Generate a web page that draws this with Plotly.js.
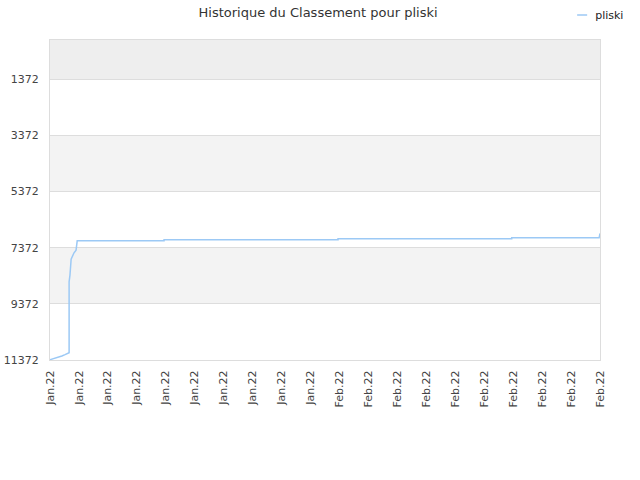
<!DOCTYPE html>
<html>
<head>
<meta charset="utf-8">
<script src="https://cdn.plot.ly/plotly-3.0.1.min.js"></script>
<style>
  body { margin: 0; }
  #chart { width: 640px; height: 480px; }
</style>
</head>
<body>
<div id="chart"></div>
<script>
// tick labels along the x axis (one per tick position)
var tickLabels = ['Jan.22', 'Jan.22', 'Jan.22', 'Jan.22', 'Jan.22', 'Jan.22', 'Jan.22', 'Jan.22', 'Jan.22', 'Jan.22',
                  'Feb.22', 'Feb.22', 'Feb.22', 'Feb.22', 'Feb.22', 'Feb.22', 'Feb.22', 'Feb.22', 'Feb.22', 'Feb.22'];
var tickPos = [0, 1, 2, 3, 4, 5, 6, 7, 8, 9, 10, 11, 12, 13, 14, 15, 16, 17, 18, 19];

// ranking history (x in tick units)
var dayPos = [0, 0.17, 0.31, 0.41, 0.52, 0.66, 0.66, 0.69, 0.73, 0.76, 0.79, 0.83, 0.90, 0.93, 0.94,
              3.94, 3.94, 9.95, 9.95, 15.95, 15.95, 18.97, 18.98, 19];
var rank = [11360, 11312, 11265, 11230, 11183, 11112, 8586, 8347, 7778, 7696, 7625, 7553, 7457, 7219, 7126,
            7126, 7090, 7090, 7055, 7055, 7020, 7020, 6863, 6863];

var yTicks = [1372, 3372, 5372, 7372, 9372, 11372];
var yLabels = ['1372', '3372', '5372', '7372', '9372', '11372'];

// alternating grey bands between the y ticks
var shapes = [];
var bands = [[-27, 1372, '#eeeeee'], [3372, 5372, '#f3f3f3'], [7372, 9372, '#f3f3f3']];
bands.forEach(function(b) {
  shapes.push({
    type: 'rect', xref: 'paper', yref: 'y', x0: 0, x1: 1, y0: b[0], y1: b[1],
    fillcolor: b[2], line: {width: 0}, layer: 'below'
  });
});

var trace = {
  x: dayPos,
  y: rank,
  name: 'pliski',
  type: 'scatter',
  mode: 'lines',
  line: {color: '#9cc9f5', width: 1.5},
  showlegend: true
};

var layout = {
  width: 640,
  height: 480,
  margin: {l: 50, r: 40, t: 40, b: 120, autoexpand: false},
  font: {family: 'DejaVu Sans', size: 11, color: '#444'},
  title: {text: 'Historique du Classement pour pliski', font: {size: 13, color: '#333'}, x: 0.497, y: 0.975, yanchor: 'middle'},
  paper_bgcolor: '#ffffff',
  plot_bgcolor: '#ffffff',
  showlegend: true,
  legend: {x: 1.053, xanchor: 'right', y: 1.078, yanchor: 'middle', font: {size: 11, color: '#222'}, bgcolor: 'rgba(0,0,0,0)'},
  xaxis: {
    range: [0, 19],
    tickvals: tickPos,
    ticktext: tickLabels,
    tickangle: -90,
    showgrid: false,
    zeroline: false,
    showline: true,
    linecolor: '#dddddd',
    mirror: true,
    ticks: 'outside',
    ticklen: 5,
    tickcolor: 'rgba(0,0,0,0)'
  },
  yaxis: {
    range: [11372, -27],
    tickvals: yTicks,
    ticktext: yLabels,
    showgrid: true,
    gridcolor: '#dddddd',
    zeroline: false,
    showline: true,
    linecolor: '#dddddd',
    mirror: true,
    ticks: 'outside',
    ticklen: 8,
    tickcolor: 'rgba(0,0,0,0)'
  },
  shapes: shapes
};

Plotly.newPlot('chart', [trace], layout, {displayModeBar: false, staticPlot: true}).then(function(gd) {
  // short legend sample like the original
  var paths = gd.querySelectorAll('.legendlines path');
  paths.forEach(function(p) { p.setAttribute('d', 'M22,0h10'); });
});
</script>
</body>
</html>
